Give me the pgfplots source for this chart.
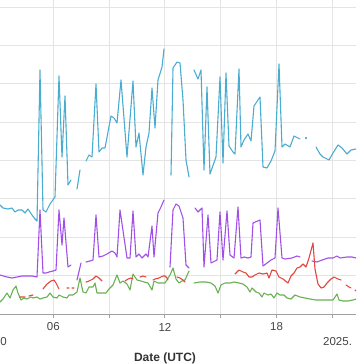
\documentclass[border=0pt]{standalone}
\usepackage{pgfplots}
\pgfplotsset{compat=1.18}
\usepackage{fontspec}
\setmainfont{Liberation Sans}
\definecolor{cy}{RGB}{74,172,208}
\definecolor{pu}{RGB}{160,80,230}
\definecolor{rd}{RGB}{226,70,60}
\definecolor{gr}{RGB}{104,176,82}
\definecolor{gridc}{RGB}{228,228,228}
\definecolor{axc}{RGB}{160,160,160}
\definecolor{txt}{RGB}{68,68,68}
\begin{document}
\begin{tikzpicture}
\useasboundingbox (0pt,0pt) rectangle (356pt,364pt);
\clip (0pt,0pt) rectangle (356pt,364pt);
\begin{axis}[
  at={(0pt,50pt)}, anchor=south west,
  width=356pt, height=314pt, scale only axis,
  xmin=0, xmax=356, ymin=0, ymax=314, y dir=reverse,
  axis line style={draw=none},
  xtick={-2.5,53.3,109.1,164.9,220.7,276.5,332.3},
  ytick={7,45.4,83.8,122.1,160.5,198.9,237.3,275.6},
  xticklabels={}, yticklabels={},
  major tick length=0pt,
  grid=major, major grid style={color=gridc, line width=0.9pt},
  unbounded coords=jump,
  clip=true,
  every axis plot/.append style={line width=1.1pt, line join=round, line cap=round},
]
% green
\addplot[gr] coordinates {
(0,302)(3,299)(7,293)(10,298)(13,290)(16,286)(18,293)(21,300)(24,298)(27,299)(31,297)(33,298)(37,297)(40,299)(43,298)(47,297)(50,293)(53,297)(57,298)(59,295)(63,297)(67,298)(69,295)(73,295)(77,292)(80,278)(83,292)(86,293)(89,287)(93,287)(95,283)(97,293)(102,293)(106,293)(109,289)(113,285)(117,275)(120,283)(123,281)(127,284)(130,290)(133,274)(137,280)(141,281)(144,282)(148,283)(152,290)(154,281)(158,283)(165,283)(170,275)(173,268)(176,279)(179,283)(182,281)(185,280)(189,271)
(191,nan)
(194,283)(200,282)(206,282)(211,283)(215,286)(218,293)(221,285)(225,283)(230,283)(234,282)(239,283)(243,284)(247,287)(250,292)(252,288)(256,292)(259,293)(262,297)(264,293)(268,295)(271,294)(274,298)(277,293)(280,295)(284,295)(287,298)(291,299)(295,295)(300,297)(305,298)(310,299)(316,300)(322,300)(328,300)(333,300)(337,294)(339,300)(343,301)(348,301)(353,300)(356,299)
};
% red
\addplot[rd] coordinates {
(20,297)(25,297) (27,nan)
(29,296)(33,295) (38,nan)
(43,289)(47,284)(51,281)(54,280)(56,283)(59,289) (63,nan)
(67,288)(69,288) (70,nan)
(72,288)(74,288) (80,nan)
(86,282)(89,281)(93,279)(96,276)(99,278)(102,281) (110,nan)
(125,281)(128,279)(131,278)(133,279) (136,nan)
(140,277)(143,276)(146,277) (150,nan)
(153,280)(155,279)(159,278)(163,276)(165,276)(167,278)(168,280) (172,nan)
(177,277)(180,278)(183,280)(185,282) (200,nan)
(235,274)(239,270)(243,272)(246,273)(249,277)(252,277)(255,275)(259,273)(263,274)(267,273)(269,278)(272,270)(276,271)(279,277)(283,279)(288,283)(291,276)(294,273)(297,268)(300,267)(303,264)(306,267)(309,258)(313,243)(315,269)(318,284)(321,288)(324,287)(327,283)(331,279)(334,277)(338,279)(341,280) (343,nan)
(346,285)(349,287)(351,288) (353,nan)
(355,290)(356,291)
};
% purple
\addplot[pu] coordinates {
(0,275)(7,277)(12,278)(17,277)(22,276)(27,276)(32,276)(37,277)(40,210)(43,273)(46,273)(49,272)(53,271)(56,270)(59,210)(62,245)(64,218)(68,267)(71,265)
(74,nan)
(77,280)(81,263)
(83,nan)
(86,262)(90,261)(93,260)(96,215)(99,257)(103,256)(107,254)(112,251)(115,253)(117,257)(120,210)(127,258)(130,258)(133,211)(136,257)(139,254)(142,258)(146,254)(148,257)(152,226)(154,257)(158,213)(161,207)(164,200)
(167,nan)
(170,267)(173,210)(176,204)(179,206)(183,218)(186,265)(189,268)
(192,nan)
(195,208)(198,212)(202,208)(204,267)(208,215)(211,263)(217,260)(220,212)(223,260)(227,211)(230,255)(234,258)(238,207)(241,258)(244,257)(248,258)(251,257)(253,223)(260,220)(263,266)(267,263)(271,260)(275,258)(278,208)(282,258)(285,259)(292,258)(297,256)(300,257)
(306,nan)
(312,261)(317,262)(322,260)(328,258)(333,258)(337,256)(340,258)(347,257)(352,257)(356,258)
};
% cyan
\addplot[cy] coordinates {
(0,205)(3,208)(8,209)(12,208)(15,212)(18,210)(22,210)(25,213)(28,209)(32,215)(35,219)(37,221)(40,70)(43,210)(46,212)(50,204)(55,197)(59,76)(62,157)(65,96)(68,185)(71,180)
(74,nan)
(77,189)(80,170)
(83,nan)
(86,161)(89,155)(92,157)(96,84)(99,152)(102,148)(105,148)(111,116)(114,118)(117,123)(121,80)(127,157)(133,81)(136,147)(139,133)(143,175)(146,147)(149,133)(152,88)(155,128)(158,80)(162,67)(164,49)
(167,nan)
(171,175)(173,68)(177,62)(180,63)(183,100)(186,160)(189,177)
(192,nan)
(194,70)(198,79)(201,70)(204,170)(207,87)(210,174)(216,157)(220,77)(223,163)(226,73)(229,146)(233,152)(235,154)(239,69)(241,147)(244,140)(248,134)(251,141)(254,106)(260,97)(263,167)(267,168)(271,161)(275,151)(279,64)(282,147)(285,144)(290,147)(294,136)(300,139)
(310,nan)
(316,147)(320,154)(323,157)(329,160)(333,153)(338,145)(342,148)(347,154)(351,150)(356,149)
};
\addplot[cy, only marks, mark=*, mark size=0.6pt] coordinates {(306,138)};
\end{axis}
\draw[axc, line width=0.9pt] (0pt,50pt) -- (356pt,50pt);
\foreach \t in {53.3,109.1,164.9,220.7,276.5,332.3}{\draw[axc, line width=0.9pt] (\t pt,50pt) -- (\t pt,46pt);}
\begin{scope}[every node/.style={text=txt, font=\fontsize{11.5}{13}\selectfont, inner sep=0pt}]
\node at (53.3pt,37pt) {06};
\node at (164.9pt,37pt) {12};
\node at (276.5pt,37pt) {18};
\node[anchor=west] at (0.3pt,22pt) {0};
\node[anchor=west] at (323pt,22pt) {2025.};
\end{scope}
\node[text=black!80, font=\fontsize{12}{14}\selectfont\bfseries, inner sep=0pt] at (165pt,6pt) {Date (UTC)};
\end{tikzpicture}
\end{document}
